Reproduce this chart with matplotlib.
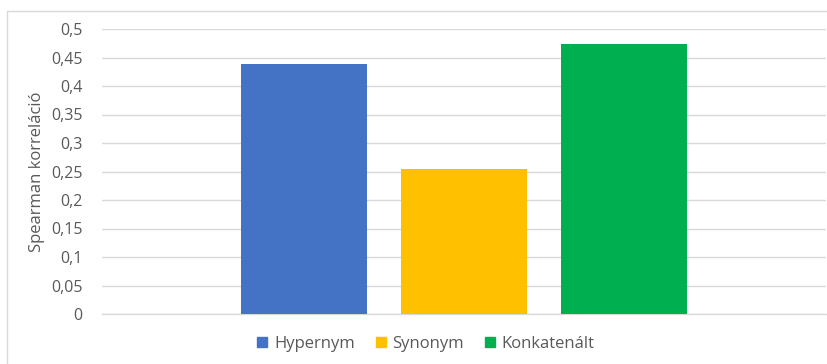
import matplotlib.pyplot as plt
from matplotlib.patches import Rectangle, Patch

series = ['Hypernym', 'Synonym', 'Konkatenált']
values = [0.439, 0.254, 0.473]
colors = ['#4472C4', '#FFC000', '#00B050']
yticks = [0, 0.05, 0.1, 0.15, 0.2, 0.25, 0.3, 0.35, 0.4, 0.45, 0.5]

plt.rcParams['font.family'] = ['Open Sans', 'DejaVu Sans']

fig = plt.figure(figsize=(8.28, 3.64), dpi=100)
ax = fig.add_axes([102 / 828, 50 / 364, 724 / 828, 285 / 364])

# chart frame (cropped on right and bottom)
fig.patches.append(Rectangle((7 / 828, -0.1), 1.2, 1.1 - 11 / 364,
                             transform=fig.transFigure, fill=False,
                             edgecolor='#d9d9d9', linewidth=1))

pos = [-1, 0, 1]
ax.bar(pos, values, width=0.7875, color=colors, zorder=3)

ax.set_xlim(-2.2625, 2.2625)
ax.set_ylim(0, 0.5)
ax.set_yticks(yticks)
ax.set_yticklabels([('%g' % t).replace('.', ',') for t in yticks])
ax.set_xticks([])
ax.grid(axis='y', color='#d9d9d9', linewidth=1, zorder=0)
for s in ['top', 'right', 'left']:
    ax.spines[s].set_visible(False)
ax.spines['bottom'].set_color('#d9d9d9')
ax.spines['bottom'].set_linewidth(1)
ax.tick_params(axis='y', length=0, pad=14, labelsize=11.5, labelcolor='#595959')
ax.set_ylabel('Spearman korreláció', fontsize=12, color='#595959', va='center')
ax.yaxis.set_label_coords(-65 / 724, 0.5)

handles = [Patch(color=c, label=s) for s, c in zip(series, colors)]
fig.legend(handles=handles, loc='center', bbox_to_anchor=(426 / 828, 1 - 344 / 364),
           ncol=3, frameon=False, fontsize=12, labelcolor='#595959',
           handlelength=0.6, handleheight=0.6, handletextpad=0.4, columnspacing=1.25)

fig.savefig('out.png', dpi=100)
